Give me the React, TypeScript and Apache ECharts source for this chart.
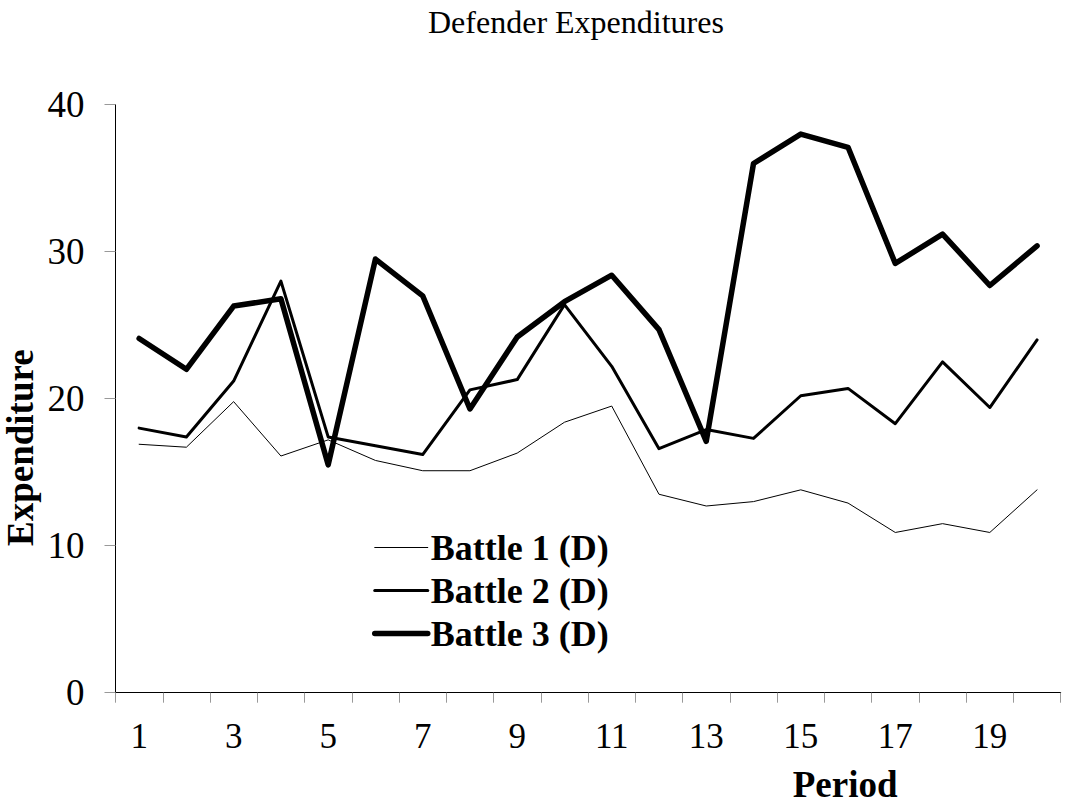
import React, { useEffect, useRef } from "react";
import * as echarts from "echarts";

const periods = ["1","2","3","4","5","6","7","8","9","10","11","12","13","14","15","16","17","18","19","20"];
const battle1 = [16.9, 16.7, 19.8, 16.1, 17.2, 15.8, 15.1, 15.1, 16.3, 18.4, 19.5, 13.5, 12.7, 13.0, 13.8, 12.9, 10.9, 11.5, 10.9, 13.8];
const battle2 = [18.0, 17.4, 21.2, 28.0, 17.4, 16.8, 16.2, 20.6, 21.3, 26.4, 22.2, 16.6, 17.9, 17.3, 20.2, 20.7, 18.3, 22.5, 19.4, 24.0];
const battle3 = [24.1, 22.0, 26.3, 26.8, 15.5, 29.5, 27.0, 19.3, 24.2, 26.6, 28.4, 24.7, 17.1, 36.0, 38.0, 37.1, 29.2, 31.2, 27.7, 30.4];
const seriesNames = ["Battle 1 (D)", "Battle 2 (D)", "Battle 3 (D)"];
const lineWidths = [1, 3, 5.5];

const FONT = "'Liberation Serif', 'Times New Roman', serif";

export default function App() {
  const ref = useRef<HTMLDivElement>(null);
  useEffect(() => {
    document.body.style.margin = "0";
    const chart = echarts.init(ref.current!, null, { renderer: "svg" });
    const mk = (name: string, data: number[], width: number) => ({
      name,
      type: "line",
      data,
      symbol: "none",
      showSymbol: false,
      lineStyle: { color: "#000", width, join: "round", cap: "round" },
      itemStyle: { color: "#000" },
    });
    chart.setOption({
      animation: false,
      backgroundColor: "#fff",
      title: {
        text: "Defender Expenditures",
        left: 428,
        top: 6,
        padding: 0,
        textStyle: { fontFamily: FONT, fontSize: 32, fontWeight: "normal", color: "#000" },
      },
      grid: {
        left: 115.5,
        right: 4.3,
        top: 104.7,
        bottom: 111.3,
        containLabel: false,
        outerBoundsMode: "none",
      },
      legend: {
        orient: "vertical",
        left: 372,
        top: 526,
        padding: 0,
        itemWidth: 53,
        itemHeight: 14,
        itemGap: 0,
        data: seriesNames.map((n, i) => ({
          name: n,
          lineStyle: { width: lineWidths[i], color: "#000", cap: "round" },
          itemStyle: { opacity: 0 },
        })),
        textStyle: {
          fontFamily: FONT,
          fontSize: 36,
          fontWeight: "bold",
          color: "#000",
          lineHeight: 33,
          padding: [10, 0, 0, -2],
        },
      },
      xAxis: {
        type: "category",
        data: periods,
        boundaryGap: true,
        name: "Period",
        nameLocation: "middle",
        nameGap: 73,
        nameMoveOverlap: false,
        nameTextStyle: {
          fontFamily: FONT,
          fontSize: 37,
          fontWeight: "bold",
          color: "#000",
          padding: [0, 0, 0, 514],
        },
        axisLine: { lineStyle: { color: "#000", width: 1 } },
        axisTick: { show: true, interval: 0, length: 10, lineStyle: { color: "#999" } },
        axisLabel: {
          interval: 1,
          margin: 26,
          fontFamily: FONT,
          fontSize: 35,
          color: "#000",
        },
        splitLine: { show: false },
      },
      yAxis: {
        type: "value",
        min: 0,
        max: 40,
        interval: 10,
        name: "Expenditure",
        nameLocation: "middle",
        nameGap: 77,
        nameMoveOverlap: false,
        nameTextStyle: {
          fontFamily: FONT,
          fontSize: 37,
          fontWeight: "bold",
          color: "#000",
          padding: [0, 98, 0, 0],
        },
        axisLine: { show: true, lineStyle: { color: "#000", width: 1 } },
        axisTick: { show: true, length: 11, lineStyle: { color: "#999" } },
        axisLabel: {
          margin: 31,
          fontFamily: FONT,
          fontSize: 37,
          color: "#000",
        },
        splitLine: { show: false },
      },
      series: seriesNames.map((n, i) => mk(n, [battle1, battle2, battle3][i], lineWidths[i])),
    });
    return () => chart.dispose();
  }, []);
  return <div ref={ref} style={{ width: 1065, height: 804 }} />;
}
